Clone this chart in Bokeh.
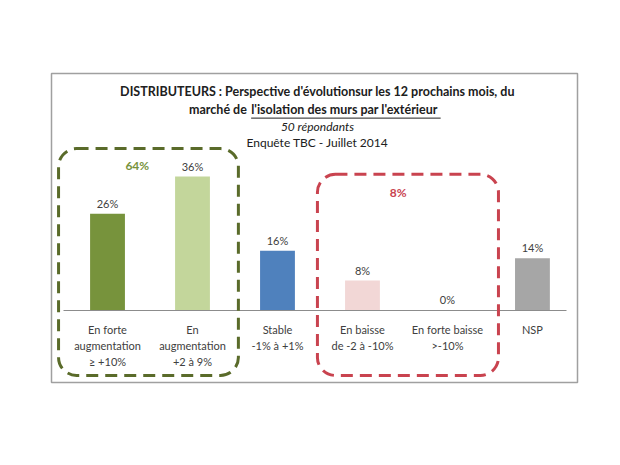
from bokeh.plotting import figure
from bokeh.models import Range1d, Label, BoxAnnotation, FixedTicker, ColumnDataSource
from bokeh.core.properties import value
from bokeh.embed import file_html
from bokeh.resources import INLINE

categories = ["En forte\naugmentation\n≥ +10%", "En\naugmentation\n+2 à 9%", "Stable\n-1% à +1%",
              "En baisse\nde -2 à -10%", "En forte baisse\n>-10%", "NSP"]
values = [26, 36, 16, 8, 0, 14]
colors = ["#77933C", "#C3D69B", "#4F81BD", "#F2D7D6", "#C0504D", "#A6A6A6"]
group_labels = ["64%", "8%"]
title_lines = ["DISTRIBUTEURS : Perspective d'évolutionsur les 12 prochains mois, du",
               "marché de", "l'isolation des murs par l'extérieur",
               "50 répondants", "Enquête TBC - Juillet 2014"]

xs = list(range(len(categories)))
FONT = "Lato"
TXT = "#404040"

p = figure(width=604, height=449, output_backend="svg", toolbar_location=None,
           x_range=Range1d(-0.659, 5.53), y_range=Range1d(-19.4, 63.7),
           min_border_left=51, min_border_right=27, min_border_top=73, min_border_bottom=67)
p.background_fill_color = "white"
p.border_fill_color = "white"
p.outline_line_color = "#A0A0A0"
p.outline_line_width = 1.5
p.xgrid.visible = False
p.ygrid.visible = False
p.yaxis.visible = False

src = ColumnDataSource(dict(x=xs, top=values, color=colors,
                            lab=[f"{v}%" for v in values]))
p.vbar(x="x", top="top", bottom=0, width=0.41, fill_color="color", line_color=None, source=src)
p.text(x="x", y="top", text="lab", source=src, text_align="center", text_baseline="bottom",
       y_offset=-4, text_font=value(FONT), text_font_size="11px", text_color=TXT)

ax = p.xaxis[0]
ax.fixed_location = 0
ax.bounds = (-0.52, 5.4)
ax.ticker = FixedTicker(ticks=xs)
ax.major_label_overrides = {i: c for i, c in zip(xs, categories)}
ax.major_tick_line_color = None
ax.minor_tick_line_color = None
ax.axis_line_color = "#8C8C8C"
ax.axis_line_width = 1
ax.major_label_text_font = FONT
ax.major_label_text_font_size = "11px"
ax.major_label_text_color = TXT
ax.major_label_standoff = 7

# dashed group boxes
p.add_layout(BoxAnnotation(left=-0.576, right=1.54, top=43.5, bottom=-17.5,
                           fill_alpha=0, line_color="#5A6B2A", line_alpha=1, line_width=3,
                           line_dash="12 7", border_radius=18))
p.add_layout(BoxAnnotation(left=2.47, right=4.6, top=36.6, bottom=-17.5,
                           fill_alpha=0, line_color="#C9434F", line_alpha=1, line_width=3,
                           line_dash="12 7", border_radius=18))
p.add_layout(Label(x=0.35, y=39, text=group_labels[0], text_align="center", text_baseline="middle",
                   text_font=FONT, text_font_size="12px", text_font_style="bold", text_color="#77933C"))
p.add_layout(Label(x=3.42, y=31.8, text=group_labels[1], text_align="center", text_baseline="middle",
                   text_font=FONT, text_font_size="12px", text_font_style="bold", text_color="#C9434F"))

# titles
cx = 2.47
p.add_layout(Label(x=cx, y=58.8, text=title_lines[0], text_align="center", text_baseline="middle",
                   text_font=FONT, text_font_size="12.5px", text_font_style="bold", text_color="#202020"))
split = 1.64
p.add_layout(Label(x=split, y=54.0, text=title_lines[1], text_align="right", text_baseline="middle",
                   text_font=FONT, text_font_size="12.5px", text_font_style="bold", text_color="#202020"))
p.add_layout(Label(x=split + 0.05, y=54.0, text=title_lines[2], text_align="left", text_baseline="middle",
                   text_font=FONT, text_font_size="12.5px", text_font_style="bold", text_color="#202020"))
p.segment(x0=[split + 0.05], x1=[3.92], y0=[51.7], y1=[51.7], line_color="#202020", line_width=1)
p.add_layout(Label(x=cx, y=49.4, text=title_lines[3], text_align="center", text_baseline="middle",
                   text_font=FONT, text_font_size="12px", text_font_style="italic", text_color="#202020"))
p.add_layout(Label(x=cx, y=45.2, text=title_lines[4], text_align="center", text_baseline="middle",
                   text_font=FONT, text_font_size="12px", text_color="#202020"))

open("out.html", "w").write(file_html(p, INLINE))
